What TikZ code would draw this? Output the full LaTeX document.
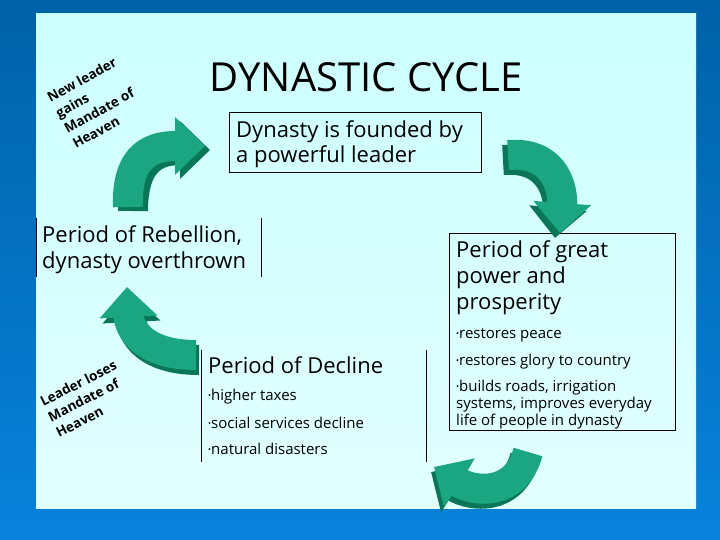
\documentclass[tikz,border=0pt]{standalone}
\usepackage{fontspec}
\setmainfont{Open Sans}
\usetikzlibrary{arrows.meta}
\definecolor{frametop}{RGB}{0,98,168}
\definecolor{framebot}{RGB}{8,130,220}
\definecolor{paneltop}{RGB}{204,255,255}
\definecolor{panelbot}{RGB}{226,255,255}
\definecolor{arrowmain}{RGB}{26,166,128}
\definecolor{arrowdark}{RGB}{10,118,88}
\tikzset{
  boxline/.style={draw=black,line width=0.9pt},
  headtxt/.style={font=\fontsize{22}{25}\selectfont,anchor=base west,inner sep=0pt},
  bullettxt/.style={font=\fontsize{15}{17}\selectfont,anchor=base west,inner sep=0pt},
  slanttxt/.style={font=\bfseries\fontsize{13.5}{17.5}\selectfont,anchor=base west,align=left,inner sep=0pt},
  cyclearrow/.style={line width=30pt,arrowmain,-{Triangle[length=30pt,width=56pt]}},
  cycleshadow/.style={line width=30pt,arrowdark,-{Triangle[length=30pt,width=56pt]}},
}
\newcommand{\bul}{{\fontsize{8}{8}\selectfont\raisebox{1.5pt}{•}}}
\begin{document}
\begin{tikzpicture}[x=1pt,y=-1pt]
\useasboundingbox (0,0) rectangle (720,540);
\shade[top color=frametop,bottom color=framebot] (0,0) rectangle (720,540);
\shade[top color=paneltop,bottom color=panelbot] (36,14) rectangle (696,508);

% title
\node[font=\fontsize{40}{44}\selectfont,anchor=base,inner sep=0pt] (title) at (366,92) {DYNASTIC CYCLE};

% box: founded
\node[boxline,anchor=north west,minimum width=252pt,minimum height=60pt,inner sep=0pt] (found) at (229,112) {};
\node[headtxt] (found1) at (236,138) {Dynasty is founded by};
\node[headtxt] (found2) at (236,163) {a powerful leader};

% box: prosperity
\node[boxline,anchor=north west,minimum width=226pt,minimum height=197pt,inner sep=0pt] (prosp) at (449,233) {};
\node[headtxt] (p1) at (456,258) {Period of great};
\node[headtxt] (p2) at (456,283) {power and};
\node[headtxt] (p3) at (456,309) {prosperity};
\node[bullettxt] (p4) at (456,338) {\bul restores peace};
\node[bullettxt] (p5) at (456,365) {\bul restores glory to country};
\node[bullettxt] (p6) at (456,391) {\bul builds roads, irrigation};
\node[bullettxt] (p7) at (456,408) {systems, improves everyday};
\node[bullettxt] (p8) at (456,425) {life of people in dynasty};

% box: decline
\node[anchor=north west,minimum width=225pt,minimum height=112pt,inner sep=0pt] (decl) at (201,350) {};
\draw[boxline] (decl.north west) -- (decl.south west);
\draw[boxline] (decl.north east) -- (decl.south east);
\node[headtxt] (d1) at (208,373) {Period of Decline};
\node[bullettxt] (d2) at (208,400) {\bul higher taxes};
\node[bullettxt] (d3) at (208,428) {\bul social services decline};
\node[bullettxt] (d4) at (208,454) {\bul natural disasters};

% box: rebellion
\node[anchor=north west,minimum width=225pt,minimum height=59pt,inner sep=0pt] (rebel) at (36,218) {};
\draw[boxline] (rebel.north west) -- (rebel.south west);
\draw[boxline] (rebel.north east) -- (rebel.south east);
\node[headtxt] (r1) at (42,243) {Period of Rebellion,};
\node[headtxt] (r2) at (42,268) {dynasty overthrown};

% slanted notes (anchored at the baseline of their last line)
\node[slanttxt,rotate=29] (gain) at (76,149) {New leader\\gains\\Mandate of\\Heaven};
\node[slanttxt,rotate=27] (lose) at (59,438) {Leader loses\\Mandate of\\Heaven};

% arrow end points
\coordinate (a1s) at (128,207); \coordinate (a1e) at (205,146);
\coordinate (a2s) at (508,155); \coordinate (a2e) at (560,233);
\coordinate (a3s) at (528,452); \coordinate (a3e) at (434,467);
\coordinate (a4s) at (196,355); \coordinate (a4e) at (127,287);

% arrows (dark side first, then face)
\draw[cycleshadow] ([shift={(5,4)}]a1s) .. controls +(0,-55) and +(-50,0) .. ([shift={(5,4)}]a1e);
\draw[cyclearrow] (a1s) .. controls +(-2,-55) and +(-50,0) .. (a1e);

\draw[cycleshadow] ([shift={(-5,5)}]a2s) .. controls +(50,-4) and +(4,-40) .. ([shift={(-5,5)}]a2e);
\draw[cyclearrow] (a2s) .. controls +(50,-4) and +(3,-40) .. (a2e);

\draw[cycleshadow] ([shift={(-3,5)}]a3s) .. controls +(-12,45) and +(40,25) .. ([shift={(-3,5)}]a3e);
\draw[cyclearrow] (a3s) .. controls +(-12,45) and +(40,25) .. (a3e);

\draw[cycleshadow] ([shift={(3,5)}]a4s) .. controls +(-55,0) and +(2,40) .. ([shift={(3,5)}]a4e);
\draw[cyclearrow] (a4s) .. controls +(-55,0) and +(2,40) .. (a4e);
\end{tikzpicture}
\end{document}
